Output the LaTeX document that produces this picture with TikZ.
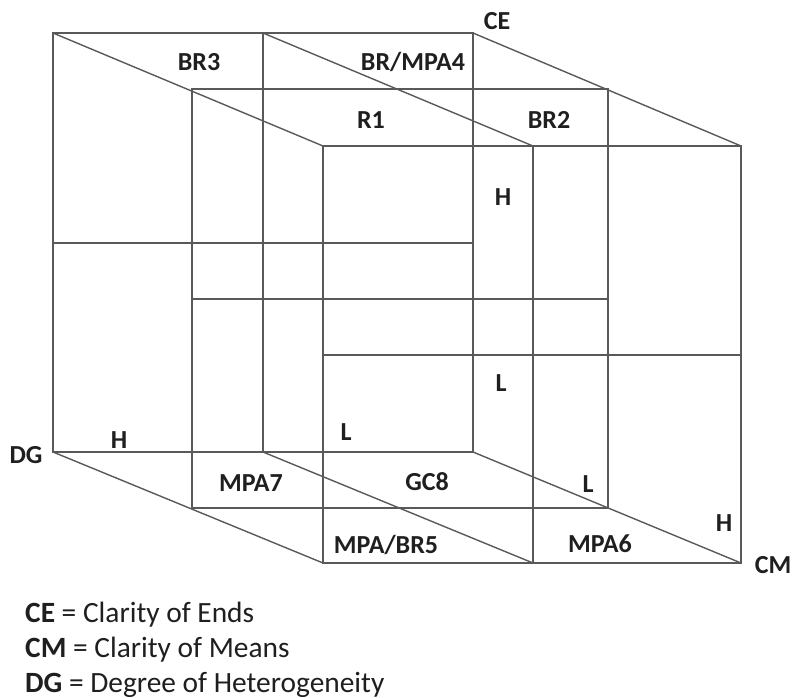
\documentclass[tikz,border=0pt]{standalone}
\usepackage{fontspec}
\setmainfont{Carlito}
\tikzset{
  cubeline/.style={line width=1.4pt, black!65},
  lbl/.style={inner sep=0pt, font=\bfseries\fontsize{26}{30}\selectfont, black!88},
  keyline/.style={inner sep=0pt, anchor=base west, font=\fontsize{29.4}{34}\selectfont, black!88}
}
\begin{document}
\begin{tikzpicture}[x=1pt, y=-1pt]
     \useasboundingbox (0,0) rectangle (793,698);
     % back, middle and front planes
     \draw[cubeline] (53, 33) rectangle (473, 452);
     \draw[cubeline] (263, 33) -- (263, 452);
     \draw[cubeline] (53, 243) -- (473, 243);
     \draw[cubeline] (192, 89) rectangle (608, 508);
     \draw[cubeline] (192, 299) -- (608, 299);
     \draw[cubeline] (323, 146) rectangle (741, 563);
     \draw[cubeline] (533, 146) -- (533, 563);
     \draw[cubeline] (323, 355) -- (741, 355);
     % depth lines
     \draw[cubeline] (53, 33) -- (323, 146);
     \draw[cubeline] (263, 33) -- (533, 146);
     \draw[cubeline] (473, 33) -- (741, 146);
     \draw[cubeline] (53, 452) -- (323, 563);
     \draw[cubeline] (263, 452) -- (533, 563);
     \draw[cubeline] (473, 452) -- (741, 563);

     \node[lbl] (ce) at (497, 21) {CE};
     \node[lbl] (cm) at (773, 565) {CM};
     \node[lbl] (dg) at (26, 455) {DG};
     \node[lbl] (br3) at (199, 62) {BR3};
     \node[lbl] (brmpa4) at (413, 62) {BR/MPA4};
     \node[lbl] (r1) at (371, 120) {R1};
     \node[lbl] (br2) at (549, 120) {BR2};
     \node[lbl] (htop) at (503, 197) {H};
     \node[lbl] (lright) at (501, 383) {L};
     \node[lbl] (lleft) at (346, 432) {L};
     \node[lbl] (hleft) at (119, 440) {H};
     \node[lbl] (mpa7) at (251, 483) {MPA7};
     \node[lbl] (gc8) at (427, 482) {GC8};
     \node[lbl] (llow) at (588, 484) {L};
     \node[lbl] (hlow) at (724, 523) {H};
     \node[lbl] (mpabr5) at (386, 545) {MPA/BR5};
     \node[lbl] (mpa6) at (600, 544) {MPA6};

     \node[keyline] (keyce) at (25, 622) {\textbf{CE} = Clarity of Ends};
     \node[keyline] (keycm) at (25, 657) {\textbf{CM} = Clarity of Means};
     \node[keyline] (keydg) at (25, 692) {\textbf{DG} = Degree of Heterogeneity};
\end{tikzpicture}
\end{document}
